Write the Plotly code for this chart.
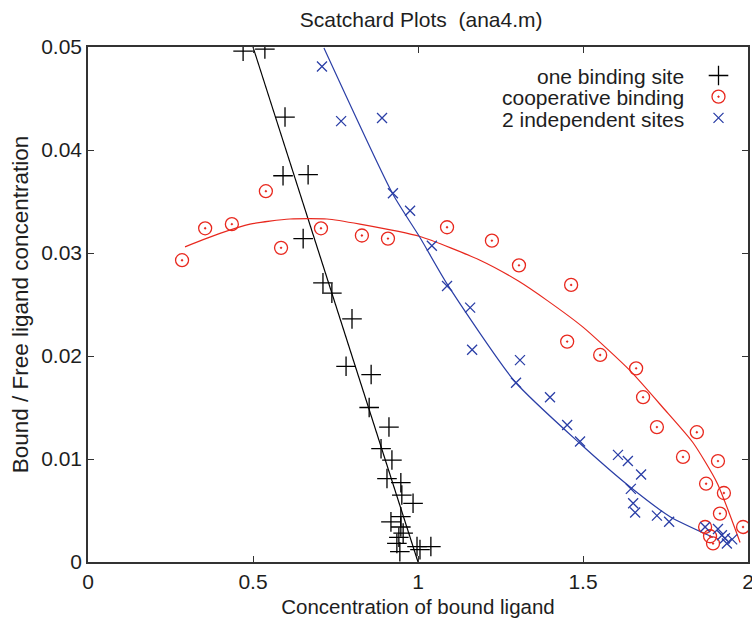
import plotly.graph_objects as go

# ---- data ----
one_x = [0.470, 0.536, 0.597, 0.591, 0.667, 0.652, 0.712, 0.739, 0.800, 0.782,
         0.858, 0.852, 0.912, 0.888, 0.921, 0.906, 0.948, 0.951, 0.985, 0.948,
         0.918, 0.948, 0.955, 0.942, 0.936, 0.945, 0.997, 1.039, 1.006]
one_y = [0.0496, 0.0498, 0.0432, 0.0375, 0.0376, 0.0314, 0.0271, 0.0261, 0.0236, 0.0190,
         0.0182, 0.0150, 0.0131, 0.0110, 0.0099, 0.0081, 0.0077, 0.0065, 0.0057, 0.0044,
         0.0039, 0.0034, 0.0028, 0.0024, 0.0018, 0.0010, 0.0015, 0.0015, 0.0012]

coop_x = [0.285, 0.355, 0.436, 0.539, 0.585, 0.706, 0.830, 0.909, 1.088, 1.224,
          1.306, 1.464, 1.452, 1.552, 1.661, 1.682, 1.724, 1.803, 1.845, 1.909,
          1.873, 1.927, 1.915, 1.870, 1.985, 1.885, 1.894]
coop_y = [0.0293, 0.0324, 0.0328, 0.0360, 0.0305, 0.0324, 0.0317, 0.0314, 0.0325, 0.0312,
          0.0288, 0.0269, 0.0214, 0.0201, 0.0188, 0.0160, 0.0131, 0.0102, 0.0126, 0.0098,
          0.0076, 0.0067, 0.0047, 0.0034, 0.0034, 0.0025, 0.0018]

two_x = [0.709, 0.767, 0.891, 0.924, 0.976, 1.042, 1.088, 1.158, 1.164, 1.309,
         1.297, 1.400, 1.452, 1.491, 1.606, 1.636, 1.676, 1.645, 1.652, 1.658,
         1.724, 1.761, 1.870, 1.909, 1.921, 1.930, 1.952, 1.936]
two_y = [0.0481, 0.0428, 0.0431, 0.0358, 0.0341, 0.0307, 0.0268, 0.0247, 0.0206, 0.0196,
         0.0174, 0.0160, 0.0133, 0.0117, 0.0104, 0.0098, 0.0085, 0.0071, 0.0057, 0.0048,
         0.0045, 0.0039, 0.0034, 0.0032, 0.0026, 0.0023, 0.0022, 0.0018]

# fitted curves
fit_one_x = [0.500, 1.000]
fit_one_y = [0.0500, 0.0000]

fit_coop_x = [0.294, 0.400, 0.491, 0.612, 0.724, 0.824, 1.006, 1.188, 1.303, 1.391,
              1.500, 1.642, 1.742, 1.833, 1.906, 1.976]
fit_coop_y = [0.0306, 0.0319, 0.0328, 0.0333, 0.0333, 0.0328, 0.0316, 0.0293, 0.0273, 0.0254,
              0.0228, 0.0186, 0.0150, 0.0116, 0.0077, 0.0019]

fit_two_x = [0.715, 0.924, 1.006, 1.088, 1.294, 1.491, 1.642, 1.764, 1.894]
fit_two_y = [0.0499, 0.0357, 0.0315, 0.0270, 0.0175, 0.0115, 0.0073, 0.0044, 0.0024]

names = ["one binding site", "cooperative binding", "2 independent sites"]
BLACK = "#000000"
RED = "#e8281e"
BLUE = "#2a3ea6"
TXT = "#1e1e1e"
FONT = "Liberation Sans, Arial, Helvetica, sans-serif"

fig = go.Figure()

fig.add_trace(go.Scatter(x=fit_one_x, y=fit_one_y, mode="lines",
                         line=dict(color=BLACK, width=1.2), showlegend=False, hoverinfo="skip"))
fig.add_trace(go.Scatter(x=fit_coop_x, y=fit_coop_y, mode="lines", line_shape="spline",
                         line=dict(color=RED, width=1.2, smoothing=0.6), showlegend=False,
                         hoverinfo="skip"))
fig.add_trace(go.Scatter(x=fit_two_x, y=fit_two_y, mode="lines", line_shape="spline",
                         line=dict(color=BLUE, width=1.2, smoothing=0.6), showlegend=False,
                         hoverinfo="skip"))

fig.add_trace(go.Scatter(x=one_x, y=one_y, mode="markers", name=" ",
                         marker=dict(symbol="cross-thin", size=14, color=BLACK,
                                     line=dict(color=BLACK, width=1.3))))
fig.add_trace(go.Scatter(x=coop_x, y=coop_y, mode="markers", name=" ",
                         marker=dict(symbol="circle-open-dot", size=13, color=RED,
                                     line=dict(color=RED, width=1.3))))
fig.add_trace(go.Scatter(x=two_x, y=two_y, mode="markers", name=" ",
                         marker=dict(symbol="x-thin", size=10, color=BLUE,
                                     line=dict(color=BLUE, width=1.3))))

# legend labels to the left of the symbols (right-aligned)
for i, nm in enumerate(names):
    fig.add_annotation(text=nm, xref="paper", yref="paper", x=0.906, y=0.942 - i * 0.041,
                       xanchor="right", yanchor="middle", showarrow=False,
                       font=dict(family=FONT, size=21, color=TXT))

axis_common = dict(showline=True, linecolor="#333333", linewidth=1.5, mirror="ticks",
                   ticks="inside", ticklen=6, tickcolor="#333333", tickwidth=1.2,
                   showgrid=False, zeroline=False, automargin=False,
                   ticklabeloverflow="allow",
                   tickfont=dict(family=FONT, size=21, color=TXT))

fig.update_layout(
    width=752, height=618,
    margin=dict(l=88, r=4, t=47, b=56),
    paper_bgcolor="white", plot_bgcolor="white",
    title=dict(text="Scatchard Plots \u00a0(ana4.m)", x=0.56, xanchor="center", y=0.968,
               yanchor="middle", font=dict(family=FONT, size=21, color=TXT)),
    xaxis=dict(range=[0, 2], tickvals=[0, 0.5, 1, 1.5, 2], ticktext=["0", "0.5", "1", "1.5", "2"],
               title=dict(text="Concentration of bound ligand", standoff=10,
                          font=dict(family=FONT, size=20.5, color=TXT)),
               **axis_common),
    yaxis=dict(range=[0, 0.05], tickvals=[0, 0.01, 0.02, 0.03, 0.04, 0.05],
               ticktext=["0", "0.01", "0.02", "0.03", "0.04", "0.05"],
               title=dict(text="Bound / Free ligand concentration", standoff=6,
                          font=dict(family=FONT, size=22.5, color=TXT)),
               **axis_common),
    legend=dict(x=0.925, y=0.975, xanchor="left", yanchor="top", bgcolor="rgba(0,0,0,0)",
                font=dict(family=FONT, size=14), itemwidth=30, tracegroupgap=0),
    showlegend=True,
)

fig.write_html("out.html")
